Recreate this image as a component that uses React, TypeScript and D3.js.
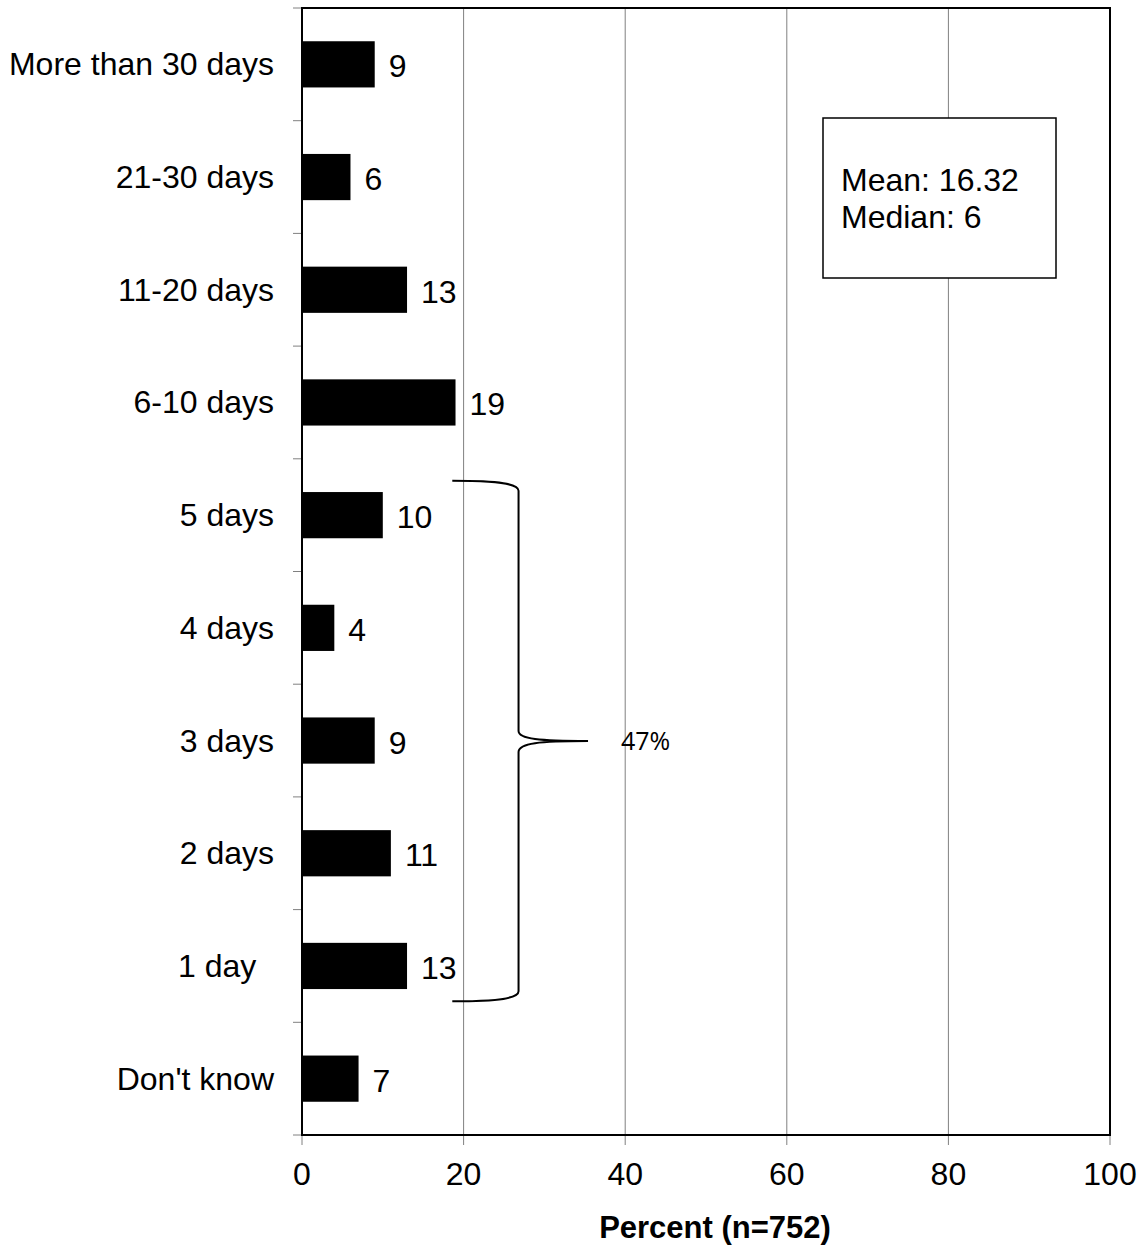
import React from "react";
import * as d3 from "d3";

// Days absent, top to bottom, with the share of respondents in each group
const categories = [
  "More than 30 days",
  "21-30 days",
  "11-20 days",
  "6-10 days",
  "5 days",
  "4 days",
  "3 days",
  "2 days",
  "1 day",
  "Don't know",
];
const values = [9, 6, 13, 19, 10, 4, 9, 11, 13, 7];
const xTicks = [0, 20, 40, 60, 80, 100];
const statLines = ["Mean: 16.32", "Median: 6"];
const bracedGroups = ["5 days", "4 days", "3 days", "2 days", "1 day"];
const bracedLabel = "47%";
const xTitle = "Percent (n=752)";

const W = 1143;
const H = 1247;
const left = 302;
const right = 1110;
const top = 8;
const bottom = 1135;
const FONT = "'Liberation Sans', Arial, Helvetica, sans-serif";

export default function App() {
  const x = d3.scaleLinear().domain([0, 100]).range([left, right]);
  const y = d3
    .scaleBand<string>()
    .domain(categories)
    .range([top, bottom])
    .paddingInner(0)
    .paddingOuter(0);
  const bw = y.bandwidth();
  const barH = bw * 0.41;

  // boundaries between rows get a small tick on the left axis
  const boundaries = d3.range(categories.length + 1).map((i) => top + i * bw);

  // curly brace spanning the grouped rows
  const firstY = (y(bracedGroups[0]) as number) + 22;
  const lastY = (y(bracedGroups[bracedGroups.length - 1]) as number) + bw - 21;
  const midY = (firstY + lastY) / 2;
  const bx0 = x(18.6);
  const bx1 = x(26.8);
  const bx2 = x(35.4);
  const brace =
    `M${bx0},${firstY} C${bx0 + 48},${firstY} ${bx1},${firstY + 3} ${bx1},${firstY + 10} ` +
    `L${bx1},${midY - 10} C${bx1},${midY - 2} ${bx1 + 21},${midY} ${bx2},${midY} ` +
    `M${bx2},${midY} C${bx1 + 21},${midY} ${bx1},${midY + 2} ${bx1},${midY + 11} ` +
    `L${bx1},${lastY - 10} C${bx1},${lastY - 3} ${bx0 + 48},${lastY} ${bx0},${lastY}`;

  const fs = 32;

  return (
    <svg
      width={W}
      height={H}
      style={{ position: "absolute", left: 0, top: 0, background: "#fff" }}
      fontFamily={FONT}
    >
      <rect x={0} y={0} width={W} height={H} fill="#fff" />

      {/* vertical gridlines */}
      {xTicks.slice(1, -1).map((t) => (
        <line key={`g${t}`} x1={x(t)} x2={x(t)} y1={top} y2={bottom} stroke="#808080" strokeWidth={1} />
      ))}

      {/* left axis ticks */}
      {boundaries.map((b, i) => (
        <line key={`yt${i}`} x1={left - 9} x2={left} y1={b} y2={b} stroke="#808080" strokeWidth={1} />
      ))}
      {/* bottom axis ticks */}
      {xTicks.map((t) => (
        <line key={`xt${t}`} x1={x(t)} x2={x(t)} y1={bottom} y2={bottom + 10} stroke="#808080" strokeWidth={1} />
      ))}

      {/* bars */}
      {categories.map((c, i) => {
        const cy = (y(c) as number) + bw / 2;
        return (
          <rect key={`b${c}`} x={x(0)} y={cy - barH / 2} width={x(values[i]) - x(0)} height={barH} fill="#000" />
        );
      })}

      {/* plot frame */}
      <rect x={left} y={top} width={right - left} height={bottom - top} fill="none" stroke="#000" strokeWidth={2} />

      {/* value labels */}
      {categories.map((c, i) => {
        const cy = (y(c) as number) + bw / 2;
        return (
          <text key={`v${c}`} x={x(values[i]) + 14} y={cy + 13} fontSize={fs} fill="#000">
            {values[i]}
          </text>
        );
      })}

      {/* category labels */}
      {categories.map((c) => {
        const cy = (y(c) as number) + bw / 2;
        const label = c === "1 day" ? "1 day  " : c;
        return (
          <text
            key={`c${c}`}
            x={left - 28}
            y={cy + 11}
            fontSize={fs}
            textAnchor="end"
            fill="#000"
            style={{ whiteSpace: "pre" }}
          >
            {label}
          </text>
        );
      })}

      {/* x tick labels */}
      {xTicks.map((t) => (
        <text key={`xl${t}`} x={x(t)} y={bottom + 50} fontSize={fs} textAnchor="middle" fill="#000">
          {t}
        </text>
      ))}

      {/* axis title */}
      <text x={(left + right) / 2 + 9} y={1238} fontSize={31} fontWeight="bold" textAnchor="middle" fill="#000">
        {xTitle}
      </text>

      {/* summary statistics box */}
      <rect x={823} y={118} width={233} height={160} fill="#fff" stroke="#000" strokeWidth={1.5} />
      {statLines.map((s, i) => (
        <text key={`s${i}`} x={841} y={191 + i * 37} fontSize={fs} fill="#000">
          {s}
        </text>
      ))}

      {/* brace over the 1–5 day groups */}
      <path d={brace} fill="none" stroke="#000" strokeWidth={2} />
      <text x={621} y={midY + 9} fontSize={25} fontFamily="'Open Sans', 'Noto Sans', sans-serif" fill="#000">
        {bracedLabel}
      </text>
    </svg>
  );
}
